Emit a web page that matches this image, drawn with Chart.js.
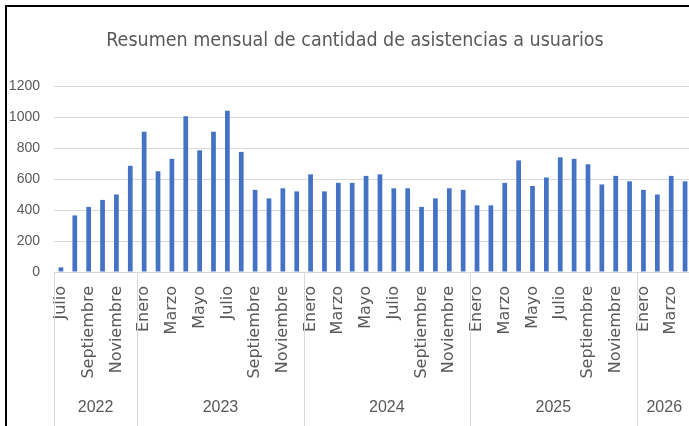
<!DOCTYPE html>
<html lang="es">
<head>
<meta charset="utf-8">
<title>Resumen mensual de asistencias</title>
<script src="https://cdn.jsdelivr.net/npm/chart.js@4.4.1/dist/chart.umd.min.js"></script>
<style>
  html, body { margin: 0; padding: 0; background: #fff; overflow: hidden; }
  #wrap { position: absolute; left: 0; top: 0; width: 720px; height: 440px; }
  .marco-izq { position: absolute; left: 5px; top: 5px; width: 2px; height: 430px; background: #000; }
  .marco-sup { position: absolute; left: 5px; top: 5px; width: 700px; height: 2px; background: #000; }
</style>
</head>
<body>
<div id="wrap"><canvas id="grafico" width="720" height="440"></canvas></div>
<div class="marco-izq"></div>
<div class="marco-sup"></div>
<script>
const titulo = "Resumen mensual de cantidad de asistencias a usuarios";
const meses = ["Enero", "Febrero", "Marzo", "Abril", "Mayo", "Junio", "Julio",
               "Agosto", "Septiembre", "Octubre", "Noviembre", "Diciembre"];
const anios = ["2022", "2023", "2024", "2025", "2026"];
const mesInicial = [6, 0, 0, 0, 0];   // 2022 empieza en Julio

// asistencias por mes, un array por año
const valores2022 = [30, 365, 420, 465, 500, 685];
const valores2023 = [905, 650, 730, 1005, 785, 905, 1040, 775, 530, 475, 540, 520];
const valores2024 = [630, 520, 575, 575, 620, 630, 540, 540, 420, 475, 540, 530];
const valores2025 = [430, 430, 575, 720, 555, 610, 740, 730, 695, 565, 620, 585];
const valores2026 = [530, 500, 620, 585];

const yMax = 1200;
const yPaso = 200;

const porAnio = [valores2022, valores2023, valores2024, valores2025, valores2026];

// armar categorias y limites de cada año
const etiquetas = [];
const datos = [];
const limites = [0];
porAnio.forEach((vals, i) => {
    vals.forEach((v, j) => {
        etiquetas.push(meses[mesInicial[i] + j]);
        datos.push(v);
    });
    limites.push(datos.length);
});

const gris = "#595959";
const lineaGris = "#d9d9d9";

const ejeMultinivel = {
    id: "ejeMultinivel",
    afterDraw(chart) {
        const ctx = chart.ctx;
        const x = chart.scales.x;
        const area = chart.chartArea;
        const medio = (x.getPixelForValue(1) - x.getPixelForValue(0)) / 2;

        ctx.save();
        // titulo
        ctx.fillStyle = gris;
        ctx.font = "19.5px 'Liberation Sans Narrow', 'DejaVu Sans Condensed', sans-serif";
        ctx.textAlign = "center";
        ctx.textBaseline = "middle";
        ctx.fillText(titulo, 355, 41);

        // separadores de año
        ctx.strokeStyle = lineaGris;
        ctx.lineWidth = 1;
        limites.forEach(idx => {
            const px = Math.round(x.getPixelForValue(idx) - medio) + 0.5;
            ctx.beginPath();
            ctx.moveTo(px, area.bottom);
            ctx.lineTo(px, 426);
            ctx.stroke();
        });

        // etiquetas de año
        ctx.font = "16px 'Liberation Sans Narrow', sans-serif";
        for (let i = 0; i < anios.length; i++) {
            const a = x.getPixelForValue(limites[i]) - medio;
            const b = x.getPixelForValue(limites[i + 1]) - medio;
            ctx.fillText(anios[i], (a + b) / 2, 408);
        }
        ctx.restore();
    }
};

new Chart(document.getElementById("grafico"), {
    type: "bar",
    data: {
        labels: etiquetas,
        datasets: [{
            label: "Asistencias",
            data: datos,
            backgroundColor: "#4472c4",
            barPercentage: 0.34,
            categoryPercentage: 1
        }]
    },
    options: {
        responsive: false,
        animation: false,
        layout: {
            padding: { top: 86, right: 28, bottom: 0, left: 0 }
        },
        plugins: {
            legend: { display: false },
            title: { display: false },
            tooltip: { enabled: false }
        },
        scales: {
            x: {
                grid: { display: false },
                border: { display: false },
                ticks: {
                    autoSkip: false,
                    maxRotation: 90,
                    minRotation: 90,
                    padding: 6,
                    color: gris,
                    font: { family: "'DejaVu Sans', sans-serif", size: 16 },
                    callback: function (val, index) {
                        return index % 2 === 0 ? this.getLabelForValue(val) : "";
                    }
                },
                afterFit: scale => { scale.height = 168; }
            },
            y: {
                min: 0,
                max: yMax,
                ticks: {
                    stepSize: yPaso,
                    padding: 14,
                    color: gris,
                    font: { family: "'Liberation Sans Narrow', sans-serif", size: 14 },
                    callback: v => String(v)
                },
                grid: { color: lineaGris, drawTicks: false },
                border: { display: false },
                afterFit: scale => { scale.width = 54; }
            }
        }
    },
    plugins: [ejeMultinivel]
});
</script>
</body>
</html>
